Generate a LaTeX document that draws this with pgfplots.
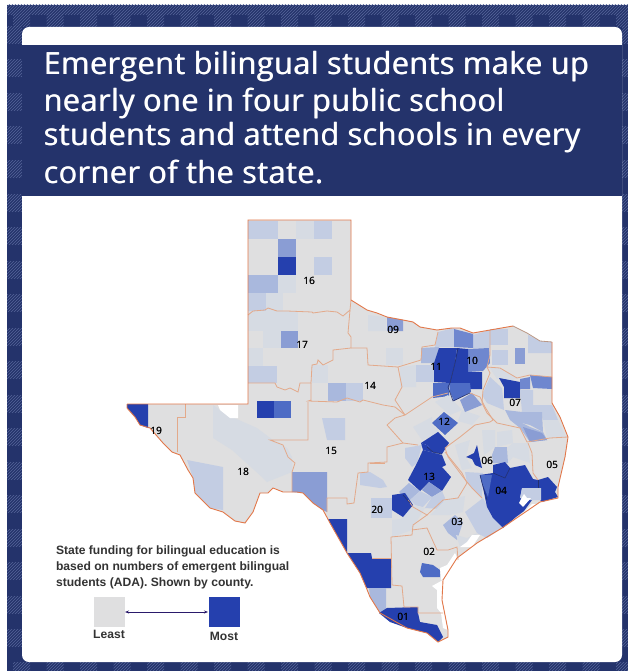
\documentclass[border=0pt]{standalone}
\usepackage{fontspec}
\setmainfont{Open Sans}
\newfontfamily\legendfont{Liberation Sans}
\usepackage{pgfplots}
\pgfplotsset{compat=1.18}
\usetikzlibrary{patterns,arrows.meta}
\definecolor{navy}{HTML}{24336B}
\definecolor{hatchc}{HTML}{56659A}
\definecolor{dk}{HTML}{2540AE}
\definecolor{blf}{HTML}{4E6CC5}
\definecolor{blq}{HTML}{6F87CF}
\definecolor{blt}{HTML}{8A9DD4}
\definecolor{bls}{HTML}{A9B8DD}
\definecolor{blo}{HTML}{C3CDE3}
\definecolor{blz}{HTML}{D6DBE3}
\definecolor{grayc}{HTML}{DFDFE0}
\definecolor{reg}{HTML}{E3A98A}
\definecolor{edge}{HTML}{E2784A}
\definecolor{darkln}{HTML}{24306E}
\definecolor{arrowc}{HTML}{2A1A6B}
\definecolor{txt}{HTML}{333333}
\newcommand{\poly}[2]{\addplot[fill=#1,draw=none,forget plot] coordinates {#2} --cycle;}
\newcommand{\regline}[1]{\addplot[reg,line width=0.8pt,forget plot] coordinates {#1};}
\newcommand{\darkline}[1]{\addplot[darkln,line width=0.6pt,forget plot] coordinates {#1};}
\newfontfamily\titlefont[LetterSpace=1.7]{Open Sans}
\newcommand{\rlabel}[3]{\node[font=\fontsize{10}{10}\selectfont,text=black] at (axis cs:#1,#2) {#3};\node[font=\fontsize{10}{10}\selectfont,text=black] at (axis cs:#1+0.3,#2) {#3};}
\newcommand{\ttl}[2]{\node[anchor=west,text=white,font=\titlefont\fontsize{30.5}{32}\selectfont] at (axis cs:40,#1) {#2};\node[anchor=west,text=white,font=\titlefont\fontsize{30.5}{32}\selectfont] at (axis cs:40.7,#1) {#2};}
\newcommand{\lgd}[2]{\node[anchor=west,text=txt,font=\legendfont\bfseries\fontsize{12.1}{13}\selectfont] at (axis cs:52.5,#1) {#2};}
\begin{document}
\begin{tikzpicture}
\begin{axis}[
  width=628pt,height=671pt,scale only axis,
  xmin=0,xmax=628,ymin=0,ymax=671,y dir=reverse,
  hide axis,clip=true]
% page
\poly{white}{(0,0)(628,0)(628,671)(0,671)}
% frame
\poly{navy}{(7,5)(628,5)(628,671)(7,671)}
\fill[pattern=north east lines,pattern color=hatchc] (axis cs:7,5) rectangle (axis cs:628,15);
\pgfplotsinvokeforeach{13,46.5,80,113.5,147,180.5,214,247.5,281,314.5,348,381.5,415,448.5,482,515.5,549,582.5,616}{
  \fill[pattern=north east lines,pattern color=hatchc] (axis cs:#1,15) rectangle (axis cs:{#1+17},27);
  \fill[pattern=north east lines,pattern color=hatchc] (axis cs:#1,662) rectangle (axis cs:{#1+17},671);
}
\pgfplotsinvokeforeach{27,60,93.5,127,160.5,194,227.5,261,294.5,328,361.5,395,428.5,462,495.5,529,562.5,596,629.5}{
  \fill[pattern=north east lines,pattern color=hatchc] (axis cs:7,#1) rectangle (axis cs:22,{#1+17});
  \fill[pattern=north east lines,pattern color=hatchc] (axis cs:622,#1) rectangle (axis cs:628,{#1+17});
}
% card and title band
\addplot[fill=white,draw=none,forget plot,rounded corners=7pt] coordinates {(22,27)(622,27)(622,662)(22,662)} --cycle;
\poly{navy}{(22,45)(622,45)(622,196)(22,196)}
\ttl{67}{Emergent bilingual students make up}
\ttl{103}{nearly one in four public school}
\ttl{138}{students and attend schools in every}
\ttl{172}{corner of the state.}
% state base
\poly{grayc}{(248,220)(351,220)(351,300)(367,310)(377,313)(387,317)(403,320)(413,322)(420,327)(437,330)(452,328)(460,328)(473,333)(490,330)(513,326)(527,333)(540,341)(552,342)(552,403)(560,417)(568,437)(565,457)(558,487)(558,498)(540,502)(502,528)(477,543)(457,558)(443,580)(442,600)(448,630)(448,637)(438,642)(427,633)(407,628)(380,613)(370,597)(366,587)(360,573)(347,553)(330,523)(323,510)(313,503)(303,493)(297,492)(283,492)(273,488)(268,493)(260,493)(253,512)(245,523)(235,521)(223,512)(210,508)(195,493)(193,478)(188,470)(180,455)(172,452)(163,443)(150,428)(140,425)(135,417)(127,408)(127,404)(248,404)}
% panhandle and south plains
\poly{blo}{(248,221)(278,221)(278,239)(248,239)}
\poly{blz}{(296,221)(314,221)(314,239)(296,239)}
\poly{blo}{(314,221)(332,221)(332,239)(314,239)}
\poly{blt}{(278,239)(296,239)(296,257)(278,257)}
\poly{dk}{(278,257)(296,257)(296,275)(278,275)}
\poly{blo}{(314,257)(332,257)(332,275)(314,275)}
\poly{bls}{(248,275)(278,275)(278,293)(248,293)}
\poly{blz}{(278,275)(296,275)(296,293)(278,293)}
\poly{blo}{(248,293)(266,293)(266,311)(248,311)}
\poly{blz}{(266,293)(283,293)(283,311)(266,311)}
\poly{blz}{(248,311)(280,311)(280,331)(248,331)}
\poly{blz}{(280,311)(298,311)(298,331)(280,331)}
\poly{blz}{(263,331)(281,331)(281,348)(263,348)}
\poly{blt}{(281,331)(298,331)(298,348)(281,348)}
\poly{blz}{(248,348)(263,348)(263,366)(248,366)}
\poly{blo}{(248,366)(277,366)(277,383)(248,383)}
\poly{blz}{(312,365)(328,365)(328,383)(312,383)}
\poly{bls}{(328,383)(346,383)(346,401)(328,401)}
\poly{blo}{(346,383)(363,383)(363,401)(346,401)}
\poly{dk}{(257,401)(274,401)(274,418)(257,418)}
\poly{blf}{(274,401)(291,401)(291,418)(274,418)}
% far west
\poly{dk}{(127,404)(148,404)(148,428)(140,425)(135,417)(127,408)}
\poly{blz}{(213,405)(220,410)(232,417)(257,428)(273,440)(287,448)(292,457)(292,472)(267,482)(263,478)(232,450)(213,438)}
\poly{white}{(218,405)(238,405)(238,418)(230,418)(220,410)}
\poly{blo}{(187,460)(223,467)(223,510)(210,508)(195,493)(193,478)}
\poly{blt}{(292,472)(327,472)(327,512)(323,510)(313,503)(303,493)(292,492)}
\poly{blo}{(322,418)(345,418)(345,440)(327,440)}
% south
\poly{blo}{(360,473)(370,472)(383,480)(387,487)(380,488)(360,485)}
\poly{blo}{(371,498)(392,498)(392,518)(371,518)}
\poly{blz}{(392,520)(412,518)(412,530)(392,537)}
\poly{dk}{(328,519)(347,519)(347,553)(330,523)}
\poly{dk}{(347,553)(371,553)(372,558)(391,558)(391,588)(367,588)(366,587)(360,573)}
\poly{bls}{(369,588)(386,588)(386,613)(380,613)(370,597)}
\poly{dk}{(379,613)(387,608)(418,607)(418,613)(420,622)(437,625)(443,637)(438,642)(427,633)(407,628)(390,622)}
\poly{blf}{(422,563)(433,565)(440,570)(440,577)(423,577)(420,572)}
% north central
\poly{blt}{(387,317)(403,320)(403,331)(387,331)}
\poly{blz}{(368,315)(386,317)(386,331)(368,331)}
\poly{blz}{(386,348)(403,348)(403,365)(386,365)}
\poly{blz}{(400,367)(416,365)(416,387)(400,387)}
\poly{blo}{(438,332)(454,328)(454,347)(435,347)}
\poly{bls}{(421,348)(439,347)(439,363)(421,363)}
\poly{blo}{(416,365)(434,365)(434,382)(416,382)}
\poly{blo}{(473,335)(490,330)(490,348)(473,348)}
\poly{blq}{(454,329)(473,334)(473,348)(454,347)}
\poly{blq}{(468,349)(489,348)(490,363)(483,371)(468,372)}
\poly{dk}{(439,348)(457,348)(455,363)(450,383)(434,382)(434,363)}
\poly{dk}{(457,348)(468,349)(468,372)(482,372)(482,389)(470,389)(470,383)(450,383)(455,363)}
\poly{blf}{(433,383)(449,383)(449,396)(433,398)}
\poly{blf}{(449,383)(470,383)(471,392)(454,401)(450,392)}
\poly{blz}{(435,402)(448,395)(462,410)(450,415)}
\poly{blz}{(462,410)(480,416)(472,425)(458,421)}
\poly{blt}{(460,400)(472,393)(482,405)(465,412)}
\poly{blz}{(413,427)(432,417)(432,425)(440,433)(422,440)}
\poly{blf}{(432,423)(444,412)(458,423)(445,435)}
% northeast
\poly{blo}{(490,329)(508,329)(508,345)(490,345)}
\poly{blo}{(492,350)(508,350)(508,365)(492,365)}
\poly{blt}{(515,348)(525,348)(525,364)(515,364)}
\poly{blo}{(528,335)(540,341)(552,342)(552,353)(528,353)}
\poly{blz}{(490,368)(500,368)(517,378)(510,381)(497,379)}
\poly{blo}{(490,377)(502,388)(503,398)(504,410)(487,403)(482,395)}
\poly{dk}{(499,378)(520,382)(520,398)(504,398)(504,387)}
\poly{blq}{(520,379)(530,377)(530,389)(520,389)}
\poly{blq}{(530,375)(552,377)(552,389)(533,388)}
\poly{blo}{(520,390)(533,390)(533,405)(552,405)(558,420)(543,420)(541,412)(522,412)}
\poly{blz}{(543,420)(558,420)(566,437)(547,438)}
\poly{bls}{(505,410)(522,412)(522,423)(530,427)(543,432)(547,440)(530,442)(520,428)(510,420)}
\poly{bls}{(522,412)(542,412)(543,432)(530,425)(522,423)}
\poly{blt}{(523,427)(542,433)(547,440)(530,442)}
% central
\poly{blz}{(455,445)(470,440)(466,457)(472,468)(462,470)}
\poly{blz}{(482,430)(495,430)(495,447)(484,455)}
\poly{blz}{(497,432)(512,430)(513,443)(497,447)}
\poly{blz}{(508,447)(513,443)(513,457)(508,463)}
\poly{blo}{(405,448)(422,445)(417,463)(412,467)(405,458)}
\poly{dk}{(421,443)(438,432)(449,443)(442,454)(433,452)(427,445)}
\poly{dk}{(423,450)(442,455)(446,465)(442,467)(451,477)(442,491)(429,482)(420,491)(408,480)(417,463)}
\poly{dk}{(421,443)(427,445)(433,452)(442,455)(423,450)}
\poly{blt}{(429,482)(442,491)(432,497)(422,490)}
\poly{bls}{(420,491)(409,483)(399,492)(410,500)}
\poly{blo}{(410,500)(420,491)(432,497)(423,507)(415,505)}
\poly{blo}{(432,497)(442,491)(445,498)(440,509)(425,508)}
\poly{blz}{(403,517)(413,505)(425,508)(413,527)(395,525)}
\poly{dk}{(392,495)(405,493)(413,505)(403,517)(392,510)}
\poly{dk}{(477,445)(479,455)(482,468)(475,465)(472,459)(466,457)(474,453)}
\poly{bls}{(495,447)(507,447)(508,463)(493,463)(492,455)}
\poly{blz}{(513,443)(528,443)(530,463)(513,457)}
\poly{blo}{(465,472)(483,473)(482,498)(467,483)}
\poly{blz}{(430,515)(445,500)(465,496)(463,512)(450,515)}
% coastal
\poly{blo}{(465,512)(483,498)(493,517)(502,528)(487,538)(477,533)}
\poly{bls}{(443,525)(455,515)(463,522)(457,540)(448,533)}
\poly{blz}{(456,535)(467,538)(477,533)(472,543)(460,547)}
\poly{dk}{(480,475)(493,473)(493,465)(505,462)(510,468)(525,465)(533,479)(538,480)(538,488)(522,488)(520,498)(532,500)(524,511)(516,517)(503,528)(493,518)(487,507)(482,483)}
\poly{blf}{(480,475)(492,475)(488,497)(482,483)}
\poly{dk}{(538,480)(548,477)(557,487)(555,492)(558,497)(542,502)(540,500)(538,488)}
\poly{blo}{(522,488)(541,488)(541,500)(530,500)(520,498)}
% water
\poly{white}{(524,494)(527,498)(531,498)(523,507)(519,503)(521,499)}
\poly{white}{(505,527)(516,518)(524,512)(532,504)(537,504)(523,514)(507,528)}
\poly{white}{(472,535)(480,535)(472,547)(460,547)(467,542)}
\poly{white}{(440,568)(447,565)(455,553)(458,560)(445,578)(441,580)}
\poly{white}{(443,580)(442,600)(448,630)(443,628)(441,613)(437,608)(437,590)(432,586)}
% region lines
\regline{(248,315)(253,311)(265,310)(268,308)(277,311)(287,311)(312,312)(313,313)(327,311)(337,312)(343,316)(350,310)(351,300)}
\regline{(350,310)(348,333)(351,337)(351,348)(333,350)(333,360)(323,365)(318,360)(317,364)(312,365)(311,383)(300,383)(298,392)(290,388)(285,390)(277,387)(275,383)(248,383)}
\regline{(351,348)(367,348)(368,365)(398,367)(402,387)(395,400)(405,415)}
\regline{(311,383)(311,400)(308,401)(337,402)(347,398)(360,402)(363,400)(383,405)(395,407)(405,415)(417,407)(432,397)}
\regline{(308,402)(308,440)(270,440)(283,445)(288,457)(295,463)(292,472)(292,492)}
\regline{(185,404)(185,417)(177,417)(177,452)}
\regline{(398,367)(421,360)(422,347)(435,345)(438,332)}
\regline{(432,397)(448,393)}
\regline{(470,393)(480,397)(485,407)(493,420)(490,422)(475,425)(460,437)(445,448)(448,457)(463,477)(472,488)(482,498)}
\regline{(490,330)(490,355)(487,367)(500,368)(517,378)(530,375)(552,377)}
\regline{(487,367)(490,373)(483,390)(482,403)(487,413)(497,423)(520,428)(527,442)(550,438)(568,437)}
\regline{(528,443)(532,453)(533,473)(538,480)}
\regline{(387,425)(395,418)(405,415)}
\regline{(387,425)(403,443)(418,445)}
\regline{(403,443)(387,447)(387,462)(368,463)(368,472)(358,473)(354,503)(347,504)(347,498)(327,498)(327,512)}
\regline{(370,463)(385,463)}
\regline{(391,537)(412,535)(413,525)(427,515)(413,507)(408,500)}
\regline{(427,515)(443,500)(458,498)(467,483)(462,473)(445,452)}
\regline{(391,537)(392,585)(402,586)(404,607)(418,607)(418,613)(443,613)}
\regline{(412,530)(427,528)(437,550)(448,550)(457,547)(458,560)}
\regline{(392,558)(372,558)}
\darkline{(458,348)(455,363)(450,383)(448,387)(453,401)(470,393)}
\darkline{(403,495)(410,503)}
\darkline{(427,447)(433,452)(442,454)}
\darkline{(493,473)(505,478)(510,468)}
\darkline{(538,480)(538,488)}
\darkline{(480,475)(482,483)(487,500)}
% state edge
\addplot[edge,line width=0.9pt,forget plot] coordinates {(127,404)(248,404)(248,220)(351,220)(351,300)(367,310)(377,313)(387,317)(403,320)(413,322)(420,327)(437,330)(452,328)(460,328)(473,333)(490,330)(513,326)};
\addplot[reg!60!gray,line width=0.8pt,forget plot] coordinates {(513,326)(527,333)(540,341)(552,342)};
\addplot[edge,line width=0.9pt,forget plot] coordinates {(552,342)(552,403)(560,417)(568,437)(565,457)(558,487)(558,498)(540,502)(502,528)(477,543)(457,558)(443,580)(442,600)(448,630)(448,637)(438,642)(427,633)(407,628)(380,613)(370,597)(366,587)(360,573)(347,553)(330,523)(323,510)(313,503)(303,493)(297,492)(283,492)(273,488)(268,493)(260,493)(253,512)(245,523)(235,521)(223,512)(210,508)(195,493)(193,478)(188,470)(180,455)(172,452)(163,443)(150,428)(140,425)(135,417)(127,408)(127,404)};
% labels
\rlabel{309}{281}{16}
\rlabel{302}{345}{17}
\rlabel{370}{386}{14}
\rlabel{393}{330}{09}
\rlabel{436}{367}{11}
\rlabel{472}{361}{10}
\rlabel{444}{422}{12}
\rlabel{515}{403}{07}
\rlabel{429}{477}{13}
\rlabel{487}{461}{06}
\rlabel{552}{465}{05}
\rlabel{501}{491}{04}
\rlabel{331}{451}{15}
\rlabel{243}{472}{18}
\rlabel{156}{431}{19}
\rlabel{377}{510}{20}
\rlabel{457}{522}{03}
\rlabel{429}{552}{02}
\rlabel{403}{617}{01}
% legend
\lgd{551}{State funding for bilingual education is}
\lgd{567}{based on numbers of emergent bilingual}
\lgd{583}{students (ADA). Shown by county.}
\poly{grayc}{(94,597)(125,597)(125,627)(94,627)}
\poly{dk}{(209,597)(240,597)(240,627)(209,627)}
\addplot[arrowc,line width=1pt,{Stealth[length=4pt]}-{Stealth[length=4pt]},forget plot] coordinates {(125,612)(208,612)};
\node[text=txt,font=\legendfont\bfseries\fontsize{12.1}{13}\selectfont] at (axis cs:109,634) {Least};
\node[text=txt,font=\legendfont\bfseries\fontsize{12.1}{13}\selectfont] at (axis cs:224,636) {Most};
\end{axis}
\end{tikzpicture}
\end{document}
